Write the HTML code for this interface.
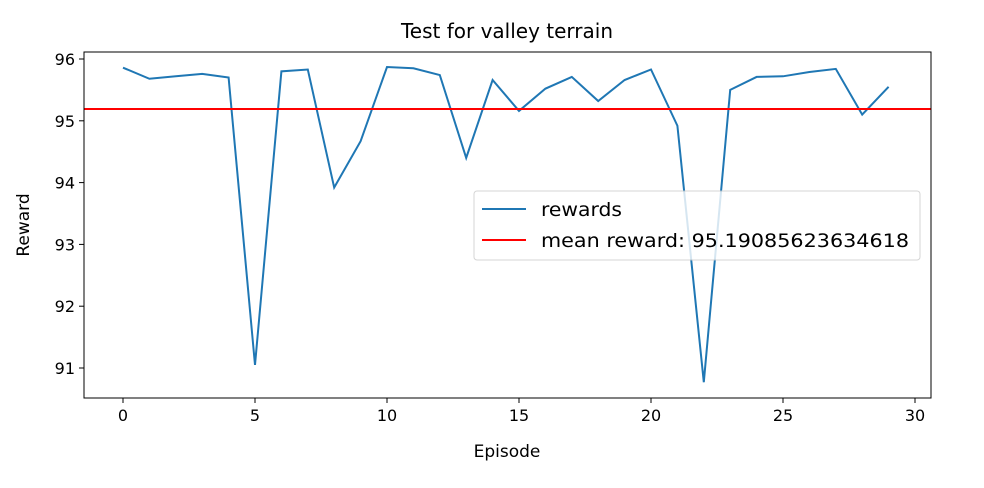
<!DOCTYPE html>
<html><head><meta charset="utf-8"><style>
body{margin:0;background:#fff;}
svg{display:block;font-family:"DejaVu Sans","Liberation Sans",sans-serif;}
</style></head><body>
<svg id="chart" width="984" height="488" viewBox="0 0 984 488">
<text x="507" y="38" font-size="20" text-anchor="middle" fill="#000">Test for valley terrain</text>
<g id="plot"></g>
</svg>
<script>
const episodes=[0,1,2,3,4,5,6,7,8,9,10,11,12,13,14,15,16,17,18,19,20,21,22,23,24,25,26,27,28,29];
const rewards=[95.86,95.68,95.72,95.76,95.70,91.05,95.80,95.83,93.92,94.67,95.87,95.85,95.74,94.40,95.66,95.16,95.52,95.71,95.32,95.66,95.83,94.92,90.77,95.50,95.71,95.72,95.79,95.84,95.10,95.55];
const meanReward=95.19085623634618;
const xTicks=[0,5,10,15,20,25,30];
const yTicks=[91,92,93,94,95,96];
const L=84,R=931,T=52,B=398;
const xs=v=>123+v*26.4;
const ys=v=>59+(96-v)*61.8;
const ns="http://www.w3.org/2000/svg";
const g=document.getElementById('plot');
function mk(t,a){const e=document.createElementNS(ns,t);for(const k in a)e.setAttribute(k,a[k]);g.appendChild(e);return e;}
xTicks.forEach(v=>{
 const l=mk('line',{x1:xs(v),x2:xs(v),y1:B,y2:B+5,stroke:'#000','stroke-width':1});
 
 
 const t=mk('text',{x:xs(v),y:B+23,'font-size':16,'text-anchor':'middle'});t.textContent=v;
 
 
});
yTicks.forEach(v=>{
 const l=mk('line',{x1:L-5,x2:L,y1:ys(v),y2:ys(v),stroke:'#000','stroke-width':1});
 
 
 const t=mk('text',{x:L-9,y:ys(v)+6,'font-size':16,'text-anchor':'end'});t.textContent=v;
 
 
});
const p=mk('polyline',{points:episodes.map((e,i)=>xs(e)+','+ys(rewards[i])).join(' '),fill:'none',stroke:'#1f77b4','stroke-width':2});


const m=mk('line',{x1:L,x2:R,y1:ys(meanReward),y2:ys(meanReward),stroke:'#ff0000','stroke-width':2});


const fr=mk('rect',{x:L,y:T,width:R-L,height:B-T,fill:'none',stroke:'#000','stroke-width':1});


const xl=mk('text',{x:507,y:457,'font-size':17,'text-anchor':'middle'});xl.textContent='Episode';


const yl=mk('text',{x:29,y:225,'font-size':17,'text-anchor':'middle',transform:'rotate(-90 29 225)'});yl.textContent='Reward';


const lg=mk('rect',{x:474,y:191,width:446,height:69,rx:3,fill:'#ffffff',opacity:0.82,stroke:'#ccc'});


[['#1f77b4','rewards',209,81],['#ff0000','mean reward: '+meanReward,240,368]].forEach(([c,s,y,w])=>{
 const l=mk('line',{x1:482,x2:526,y1:y,y2:y,stroke:c,'stroke-width':2});
 
 
 const t=mk('text',{x:541,y:y+7,'font-size':19,textLength:w,lengthAdjust:'spacingAndGlyphs'});t.textContent=s;
 
 
});
</script>
</body></html>
